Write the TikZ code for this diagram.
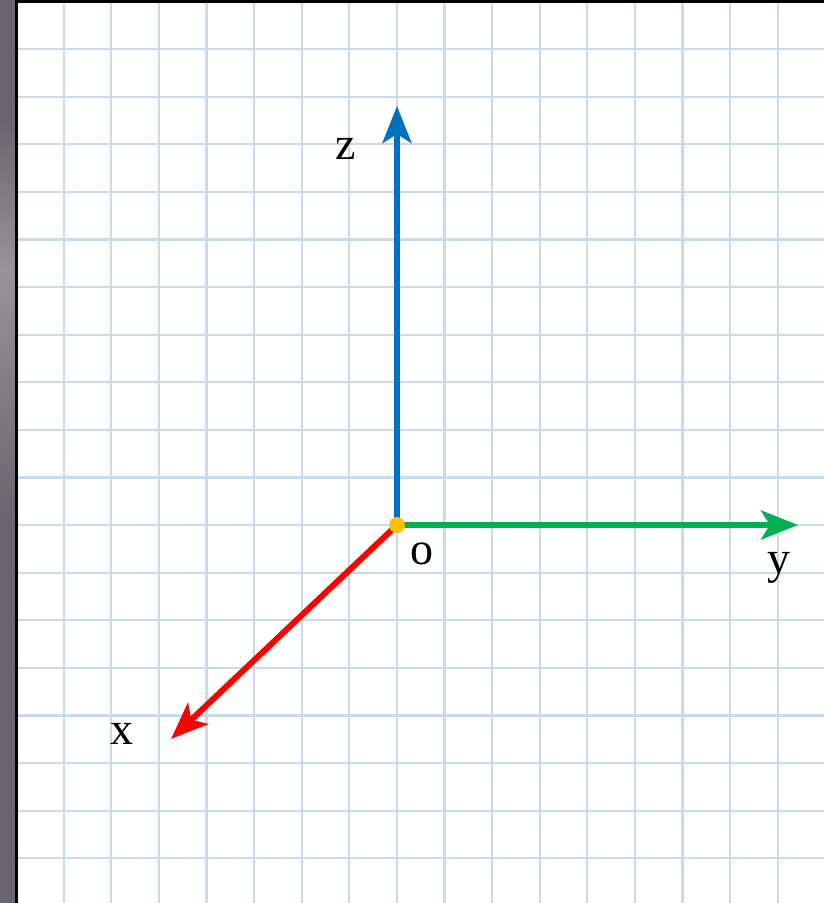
\documentclass[tikz,border=0pt]{standalone}
\usepackage{fontspec}
\setmainfont{Liberation Serif}
\usetikzlibrary{arrows.meta}
\definecolor{gridblue}{RGB}{198,218,240}
\definecolor{axblue}{RGB}{0,112,192}
\definecolor{axgreen}{RGB}{0,176,80}
\definecolor{axred}{RGB}{255,0,0}
\definecolor{dotyellow}{RGB}{255,192,0}
\definecolor{stripgray}{RGB}{104,102,108}
\definecolor{striplight}{RGB}{150,148,153}
\tikzset{
  axis/.style={line width=6pt, -{Stealth[length=37pt,width=29pt,inset=9pt]}},
  lbl/.style={font=\fontsize{46}{50}\selectfont, inner sep=0pt, anchor=base},
}
\begin{document}
\begin{tikzpicture}[x=1pt,y=-1pt]
\useasboundingbox (0,0) rectangle (824,903);
\fill[white] (0,0) rectangle (824,903);
% left strip
\fill[stripgray] (0,0) rectangle (15,903);
\shade[top color=stripgray, bottom color=striplight] (0,120) rectangle (15,270);
\shade[top color=striplight, bottom color=stripgray] (0,270) rectangle (15,520);
% grid
\foreach \k in {1,...,16} {
  \draw[gridblue, line width=2.2pt] ({16+47.6*\k},0) -- ({16+47.6*\k},903);
}
\foreach \k in {1,...,18} {
  \draw[gridblue, line width=2.2pt] (16,{1.5+47.6*\k}) -- (824,{1.5+47.6*\k});
}
% borders
\fill[black] (15,0) rectangle (17.5,903);
\fill[black] (15,0) rectangle (824,2.5);
% axes
\coordinate (o) at (397,525);
\coordinate (zt) at (397,106);
\coordinate (yt) at (798,525);
\coordinate (xt) at (171,739);
\draw[axis, axblue] (o) -- (zt);
\draw[axis, axgreen] (o) -- (yt);
\draw[axis, axred] (o) -- (xt);
\fill[dotyellow] (o) circle (8pt);
% labels
\node[lbl] (lz) at (346,159) {z};
\node[lbl] (lo) at (422,564) {o};
\node[lbl] (ly) at (779,573) {y};
\node[lbl] (lx) at (122,744) {x};
\end{tikzpicture}
\end{document}
